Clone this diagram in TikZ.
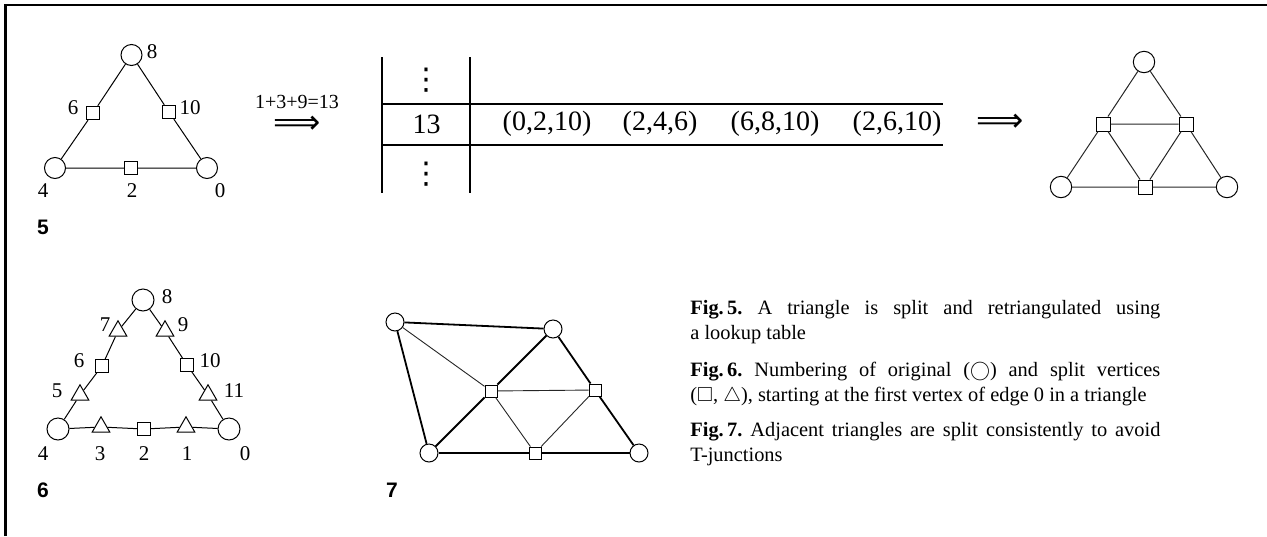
\documentclass[tikz,border=0pt]{standalone}
\usepackage{amssymb}
\usepackage{fontspec}
\setmainfont{Liberation Serif}
\setsansfont{Liberation Sans}
\newfontfamily\dejavu{DejaVu Sans}
\usetikzlibrary{shapes.geometric}
\begin{document}
\frenchspacing
\begin{tikzpicture}[x=0.5pt,y=-0.5pt,
  cir/.style={draw,circle,fill=white,minimum size=#1,inner sep=0pt,line width=0.5pt},
  cir/.default=10.5pt,
  sq/.style={draw,rectangle,fill=white,minimum size=#1,inner sep=0pt,line width=0.5pt},
  sq/.default=6.7pt,
  tri/.style={draw,regular polygon,regular polygon sides=3,fill=white,minimum size=10.2pt,inner sep=0pt,line width=0.5pt},
  lab/.style={font=\fontsize{10.5}{12}\selectfont,inner sep=0pt},
  fignum/.style={font=\sffamily\bfseries\fontsize{10.5}{12}\selectfont,inner sep=0pt},
  tab/.style={font=\fontsize{14}{16}\selectfont,inner sep=0pt},
  vdotsty/.style={font=\dejavu\fontsize{15}{17}\selectfont,inner sep=0pt},
  arrsty/.style={font=\dejavu\fontsize{16.5}{18}\selectfont,inner sep=0pt},
  ln/.style={line width=0.5pt},
  lnthin/.style={line width=0.45pt,black!85},
  lnthick/.style={line width=0.9pt},
  tabline/.style={line width=1pt},
  captxt/.style={anchor=north west,text width=235pt,align=justify,inner sep=0pt,
    font=\fontsize{10.2}{12.5}\selectfont},
]
\useasboundingbox (0,0) rectangle (1267,536);
% frame
\coordinate (f1) at (5.5,536);
\coordinate (f2) at (5.5,5);
\coordinate (f3) at (1267,5);
\draw[line width=1.3pt] (f1) -- (f2) -- (f3);

% ---------- Fig 5 left triangle
\node[cir] (a8) at (131.5,55) {};
\node[cir] (a4) at (55,168) {};
\node[cir] (a0) at (207,168) {};
\node[sq] (a6) at (93,113) {};
\node[sq] (a10) at (169,112) {};
\node[sq] (a2) at (131,168) {};
\draw[ln] (a8) -- (a6) -- (a4) -- (a2) -- (a0) -- (a10) -- (a8);
\node[lab] (l8) at (152,52) {8};
\node[lab] (l6) at (73,108) {6};
\node[lab] (l10) at (190,108) {10};
\node[lab] (l4) at (43,191) {4};
\node[lab] (l2) at (132,191) {2};
\node[lab] (l0) at (220,191) {0};
\node[fignum] (n5) at (43,227) {5};

% arrow with sum
\node[inner sep=0pt,font=\fontsize{10}{12}\selectfont] (sum) at (297,102) {1+3+9=13};
\node[arrsty] (arr1) at (297,125) {⟹};

% ---------- table
\coordinate (t1) at (381.5,57);
\coordinate (t2) at (381.5,193);
\coordinate (t3) at (470,57);
\coordinate (t4) at (470,193);
\coordinate (h1a) at (381.5,103.5);
\coordinate (h1b) at (943,103.5);
\coordinate (h2a) at (381.5,145);
\coordinate (h2b) at (943,145);
\draw[tabline] (t1) -- (t2);
\draw[tabline] (t3) -- (t4);
\draw[tabline] (h1a) -- (h1b);
\draw[tabline] (h2a) -- (h2b);
\node[vdotsty] (vd1) at (426,80) {⋮};
\node[vdotsty] (vd2) at (426,174) {⋮};
\node[tab] (k13) at (426.5,124) {13};
\node[tab] (c1) at (547,124) {(0,2,10)};
\node[tab] (c2) at (660,124) {(2,4,6)};
\node[tab] (c3) at (775,124) {(6,8,10)};
\node[tab] (c4) at (897,124) {(2,6,10)};
\node[arrsty] (arr2) at (1000,123) {⟹};

% ---------- Fig 5 right triangle
\node[cir=10.7pt] (b8) at (1144,62) {};
\node[cir=10.7pt] (b4) at (1061,187) {};
\node[cir=10.7pt] (b0) at (1227,187) {};
\node[sq=7pt] (b6) at (1103,124) {};
\node[sq=7pt] (b10) at (1186,124) {};
\node[sq=7pt] (b2) at (1145,187) {};
\draw[ln,black!85] (b8) -- (b6) -- (b4) -- (b2) -- (b0) -- (b10) -- (b8);
\draw[ln,black!85] (b6) -- (b10) -- (b2) -- (b6);

% ---------- Fig 6
\node[cir=11pt] (c8) at (143,300) {};
\node[cir=11pt] (c4n) at (58,429) {};
\node[cir=11pt] (c0) at (229,429) {};
\node[tri] (c7) at (118,331) {};
\node[sq=6.4pt] (c6) at (102,366) {};
\node[tri] (c5) at (80,395) {};
\node[tri] (c9) at (165,331) {};
\node[sq=6.4pt] (c10) at (187,365) {};
\node[tri] (c11) at (208,395) {};
\node[tri] (c3) at (101,427) {};
\node[sq=6.4pt] (c2) at (144,429) {};
\node[tri] (c1) at (186,427) {};
\draw[ln] (c8) -- (c7) -- (c6) -- (c5) -- (c4n) -- (c3) -- (c2) -- (c1) -- (c0) -- (c11) -- (c10) -- (c9) -- (c8);
\node[lab] (m8) at (167,297) {8};
\node[lab] (m7) at (105,325) {7};
\node[lab] (m9) at (183,325) {9};
\node[lab] (m6) at (79,361) {6};
\node[lab] (m10) at (210,361) {10};
\node[lab] (m5) at (57,391) {5};
\node[lab] (m11) at (234,391) {11};
\node[lab] (m4) at (43,454) {4};
\node[lab] (m3) at (100,454) {3};
\node[lab] (m2) at (144,454) {2};
\node[lab] (m1) at (187,454) {1};
\node[lab] (m0) at (245,454) {0};
\node[fignum] (n6) at (43,490) {6};

% ---------- Fig 7
\node[cir=9pt] (d1) at (395,322) {};
\node[cir=9pt] (d2) at (553,329) {};
\node[cir=9pt] (d3) at (429,453) {};
\node[cir=9pt] (d4) at (639,453) {};
\node[sq=6pt] (e1) at (491,391) {};
\node[sq=6pt] (e2) at (595,390) {};
\node[sq=6pt] (e3) at (535,453) {};
\draw[lnthick] (d1) -- (d2);
\draw[lnthick] (d1) -- (d3);
\draw[lnthick] (d2) -- (e1) -- (d3);
\draw[lnthick] (d2) -- (e2) -- (d4);
\draw[lnthick] (d3) -- (e3) -- (d4);
\draw[lnthin] (d1) -- (e1);
\draw[lnthin] (e1) -- (e2);
\draw[lnthin] (e1) -- (e3);
\draw[lnthin] (e3) -- (e2);
\node[fignum] (n7) at (392,490) {7};

% ---------- captions
\node[captxt] (cap5) at (690,300) {\textbf{Fig.\,5.} A triangle is split and retriangulated using\linebreak a lookup table};
\node[captxt] (cap6) at (690,362) {\textbf{Fig.\,6.} Numbering of original ($\bigcirc$) and split vertices\linebreak ($\square$, $\triangle$), starting at the first vertex of edge 0 in a triangle};
\node[captxt] (cap7) at (690,422) {\textbf{Fig.\,7.} Adjacent triangles are split consistently to avoid\linebreak T-junctions};
\end{tikzpicture}
\end{document}
